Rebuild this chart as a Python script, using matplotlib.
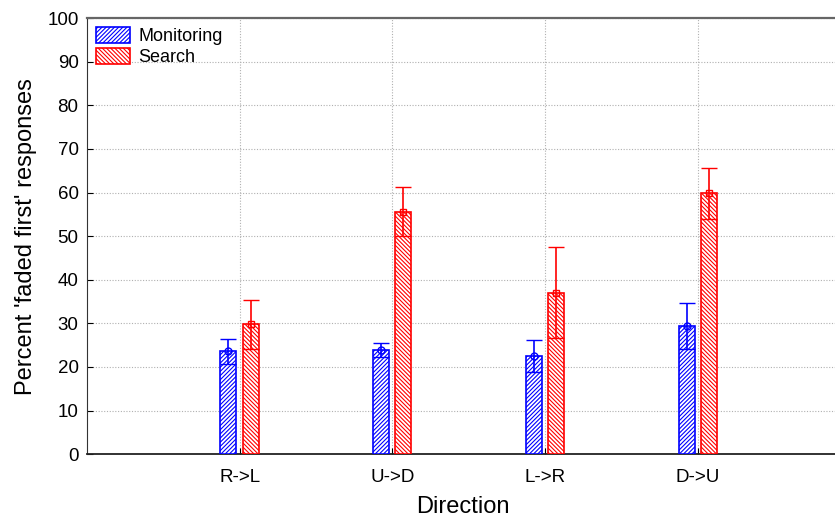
import numpy as np
import matplotlib
matplotlib.use("Agg")
import matplotlib.pyplot as plt

plt.rcParams["font.family"] = ["Liberation Sans", "DejaVu Sans"]
plt.rcParams["hatch.linewidth"] = 0.8

directions = ["R->L", "U->D", "L->R", "D->U"]
monitoring = [23.6, 23.9, 22.5, 29.4]
monitoring_err = [2.9, 1.6, 3.6, 5.3]
search = [29.8, 55.6, 37.0, 59.8]
search_err = [5.6, 5.6, 10.4, 5.8]

x = np.arange(1, len(directions) + 1)
width = 0.105
offset = 0.073

fig = plt.figure(figsize=(8.35, 5.19), dpi=100)
ax = fig.add_axes([0.104, 0.125, 0.9, 0.84])

series = [
    ("Monitoring", monitoring, monitoring_err, -offset, "blue", "////////", "o"),
    ("Search", search, search_err, offset, "red", "\\\\\\\\\\\\\\\\", "s"),
]
handles = []
for name, vals, errs, dx, col, hatch, mk in series:
    bars = ax.bar(x + dx, vals, width, facecolor="white", edgecolor=col,
                  hatch=hatch, linewidth=1.2, label=name, zorder=3)
    ax.errorbar(x + dx, vals, yerr=errs, fmt=mk, color=col, mfc="none",
                ms=5, mew=1.0, elinewidth=1.2, capsize=5.5, capthick=1.2, zorder=4)
    handles.append(bars)

ax.set_xlim(0, 4.92)
ax.set_ylim(0, 100)
ax.set_yticks(np.arange(0, 101, 10))
ax.set_xticks(x)
ax.set_xticklabels(directions)
ax.tick_params(axis="both", direction="in", length=4, labelsize=13.5, pad=6)
ax.tick_params(axis="x", pad=11)
ax.grid(True, color="#b0b0b0", linestyle=(0, (1, 1.5)), linewidth=0.8, zorder=0)
ax.set_axisbelow(True)

ax.spines["right"].set_visible(False)
ax.spines["top"].set_color("#666666")
ax.spines["top"].set_linewidth(1.6)
ax.spines["left"].set_color("#333333")
ax.spines["bottom"].set_color("#222222")
ax.spines["bottom"].set_linewidth(1.3)

ax.set_xlabel("Direction", fontsize=17, labelpad=7)
ax.set_ylabel("Percent 'faded first' responses", fontsize=17, labelpad=7)

ax.legend(handles=handles, loc="upper left", bbox_to_anchor=(0.0, 1.0),
          frameon=False, fontsize=13, handlelength=1.9, handleheight=1.0,
          handletextpad=0.45, labelspacing=0.15, borderaxespad=0.1)

fig.savefig("out.png", dpi=100, facecolor="white")
